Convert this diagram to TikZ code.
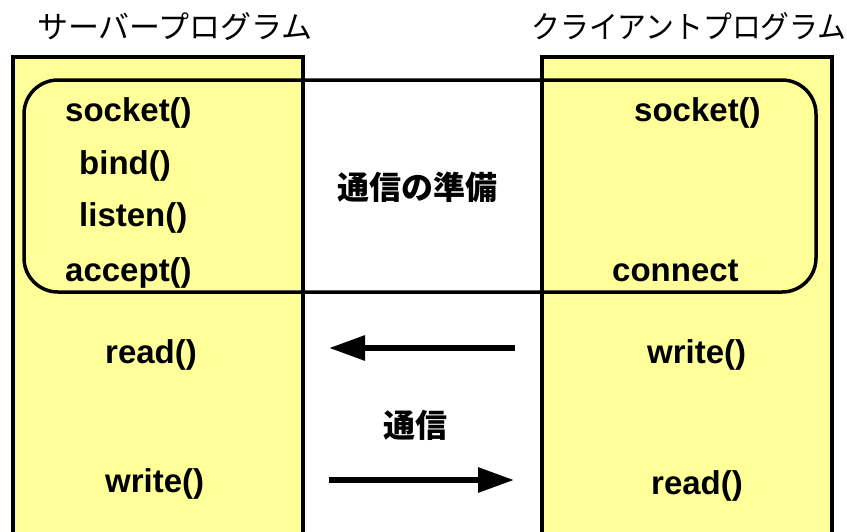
\documentclass[tikz,border=0pt]{standalone}
\usepackage{fontspec}
\setmainfont{Liberation Sans}
\newfontfamily\jpfont{Noto Sans CJK JP}
\usetikzlibrary{arrows.meta}
\definecolor{boxyellow}{HTML}{FFFF99}
\begin{document}
\begin{tikzpicture}[x=1pt,y=-1pt,
  prog/.style={draw=black,line width=4pt,fill=boxyellow},
  prep/.style={draw=black,line width=3.5pt,rounded corners=34pt},
  func/.style={font=\fontsize{33}{36}\selectfont\bfseries,inner sep=0pt,anchor=west},
  title/.style={font=\jpfont\fontsize{31}{34}\selectfont,inner sep=0pt},
  jplabel/.style={font=\jpfont\fontsize{32}{35}\selectfont\bfseries,inner sep=0pt},
  flow/.style={line width=6pt,-{Triangle[length=36pt,width=24pt]}}]
\useasboundingbox (0,0) rectangle (847,531);
\clip (0,0) rectangle (847,531);
% program boxes
\draw[prog] (12.5,57) rectangle (303,560);
\draw[prog] (541.5,57) rectangle (832,560);
% preparation area
\draw[prep] (24,80) rectangle (816,292);
% titles
\node[title] (tserver) at (175,27) {サーバープログラム};
\node[title] (tclient) at (689,27) {\scalebox{0.93}[1]{クライアントプログラム}};
% server functions
\node[func] (ssocket) at (65,113) {socket()};
\node[func] (sbind) at (79,166) {bind()};
\node[func] (slisten) at (79,218) {listen()};
\node[func] (saccept) at (65,273) {accept()};
\node[func] (sread) at (105,355) {read()};
\node[func] (swrite) at (105,484) {write()};
% client functions
\node[func] (csocket) at (634,113) {socket()};
\node[func] (cconnect) at (612,271) {connect};
\node[func] (cwrite) at (647,355) {write()};
\node[func] (cread) at (651,486) {read()};
% middle labels
\node[jplabel] (prepare) at (417,187) {通信の準備};
\node[jplabel] (comm) at (415,425) {通信};
% arrows
\coordinate (a1s) at (515,348);
\coordinate (a1e) at (329,348);
\coordinate (a2s) at (329,480);
\coordinate (a2e) at (514,480);
\draw[flow] (a1s) -- (a1e);
\draw[flow] (a2s) -- (a2e);
\end{tikzpicture}
\end{document}
